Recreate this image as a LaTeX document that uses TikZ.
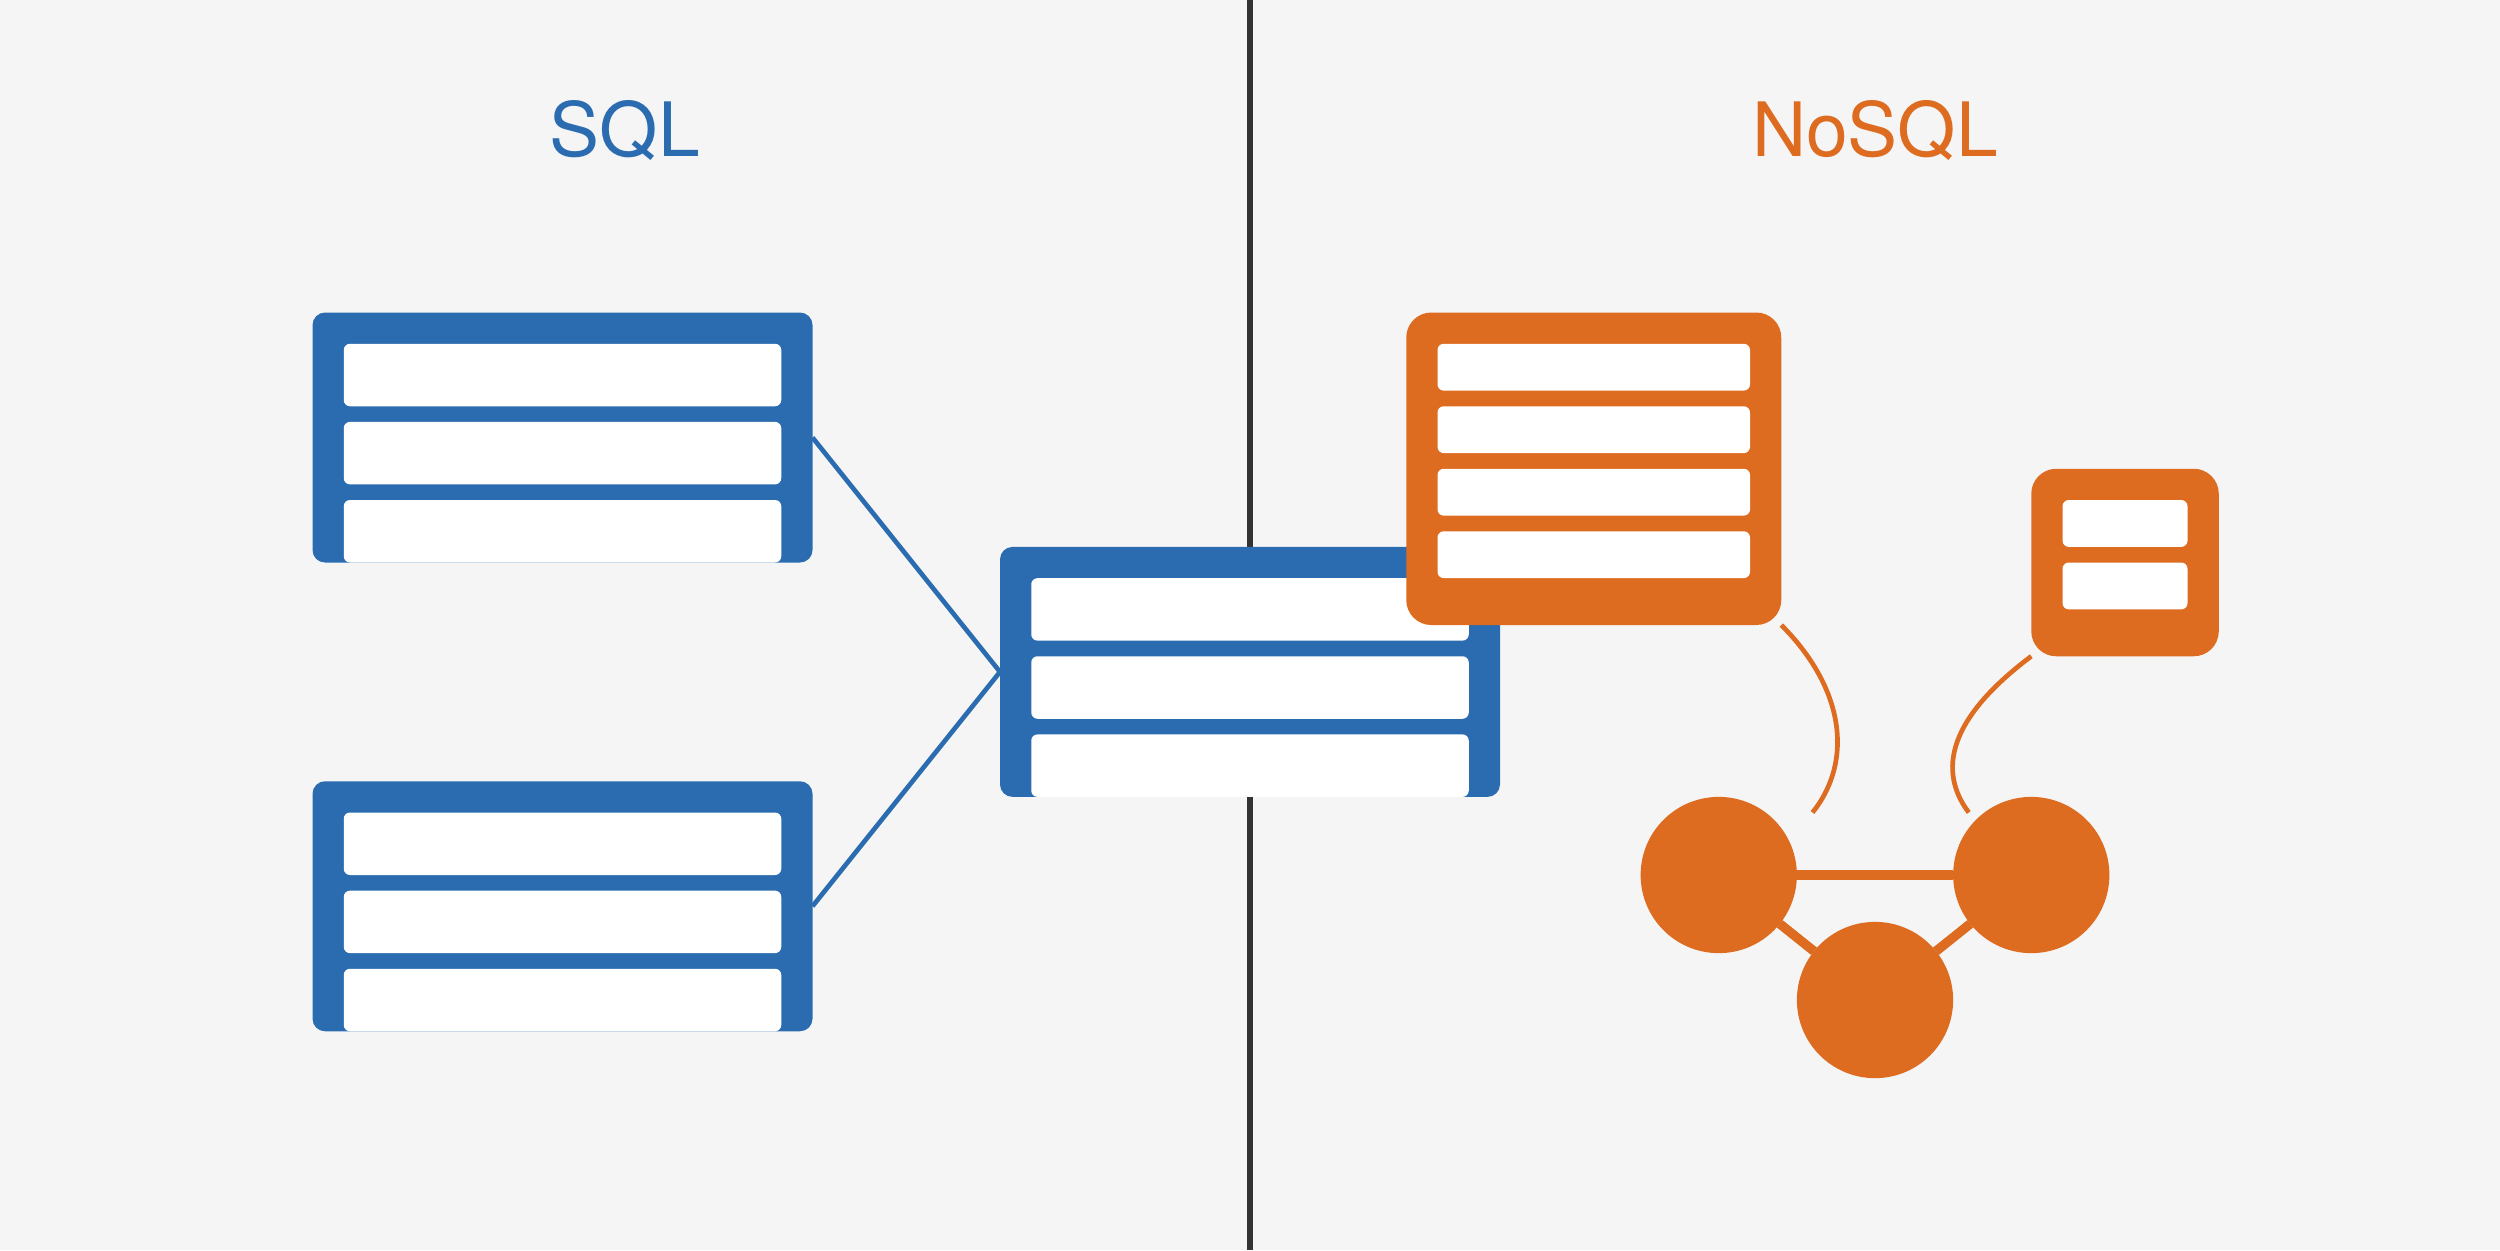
\documentclass[tikz,border=0pt]{standalone}
\usepackage{fontspec}
\setmainfont{TeX Gyre Heros}
\definecolor{sqlblue}{HTML}{2B6CB0}
\definecolor{nosqlorange}{HTML}{DD6B20}
\definecolor{bgcol}{HTML}{F5F5F5}
\definecolor{dividercol}{HTML}{333333}
\begin{document}
\begin{tikzpicture}[x=1pt,y=-1pt,
  box/.style={rectangle, inner sep=0pt, outer sep=0pt, anchor=north west},
  sqltable/.style={box, fill=sqlblue, rounded corners=4pt, minimum width=160pt, minimum height=80pt},
  sqlrow/.style={box, fill=white, rounded corners=2pt, minimum width=140pt, minimum height=20pt},
  doctable/.style={box, fill=nosqlorange, rounded corners=8pt},
  docrow/.style={box, fill=white, rounded corners=2pt, minimum height=15pt},
  graphnode/.style={circle, fill=nosqlorange, inner sep=0pt, outer sep=0pt, minimum size=50pt},
  title/.style={anchor=base, font=\fontsize{24}{29}\selectfont},
  sqllink/.style={draw=sqlblue, line width=1.5pt},
  doclink/.style={draw=nosqlorange, line width=1.5pt},
  graphlink/.style={draw=nosqlorange, line width=3pt}
]
% background and bounding box
\fill[bgcol] (0,0) rectangle (800,400);
\useasboundingbox (0,0) rectangle (800,400);

% divider
\coordinate (dtop) at (400,0);
\coordinate (dbot) at (400,400);
\draw[dividercol, line width=2pt] (dtop) -- (dbot);

% titles
\node[title, text=sqlblue] (sqltitle) at (200,50) {SQL};
\node[title, text=nosqlorange] (nosqltitle) at (600,50) {NoSQL};

% SQL tables
\node[sqltable] (t1) at (100,100) {};
\node[sqlrow] (t1r1) at (110,110) {};
\node[sqlrow] (t1r2) at (110,135) {};
\node[sqlrow] (t1r3) at (110,160) {};

\node[sqltable] (t2) at (100,250) {};
\node[sqlrow] (t2r1) at (110,260) {};
\node[sqlrow] (t2r2) at (110,285) {};
\node[sqlrow] (t2r3) at (110,310) {};

\node[sqltable] (t3) at (320,175) {};
\node[sqlrow] (t3r1) at (330,185) {};
\node[sqlrow] (t3r2) at (330,210) {};
\node[sqlrow] (t3r3) at (330,235) {};

\draw[sqllink] (t1.east) -- (t3.west);
\draw[sqllink] (t2.east) -- (t3.west);

% NoSQL document tables
\node[doctable, minimum width=120pt, minimum height=100pt] (d1) at (450,100) {};
\node[docrow, minimum width=100pt] (d1r1) at (460,110) {};
\node[docrow, minimum width=100pt] (d1r2) at (460,130) {};
\node[docrow, minimum width=100pt] (d1r3) at (460,150) {};
\node[docrow, minimum width=100pt] (d1r4) at (460,170) {};

\node[doctable, minimum width=60pt, minimum height=60pt] (d2) at (650,150) {};
\node[docrow, minimum width=40pt] (d2r1) at (660,160) {};
\node[docrow, minimum width=40pt] (d2r2) at (660,180) {};

% graph nodes
\node[graphnode] (g1) at (550,280) {};
\node[graphnode] (g2) at (650,280) {};
\node[graphnode] (g3) at (600,320) {};

\draw[graphlink] (g1) -- (g2);
\draw[graphlink] (g1) -- (g3);
\draw[graphlink] (g2) -- (g3);

% curved links from documents to graph
\coordinate (e1) at (580,260);
\coordinate (e2) at (630,260);
\draw[doclink] (d1.south east) .. controls (590,220) and (593.33,243.33) .. (e1);
\draw[doclink] (d2.south west) .. controls (623.33,230) and (620,246.67) .. (e2);
\end{tikzpicture}
\end{document}
